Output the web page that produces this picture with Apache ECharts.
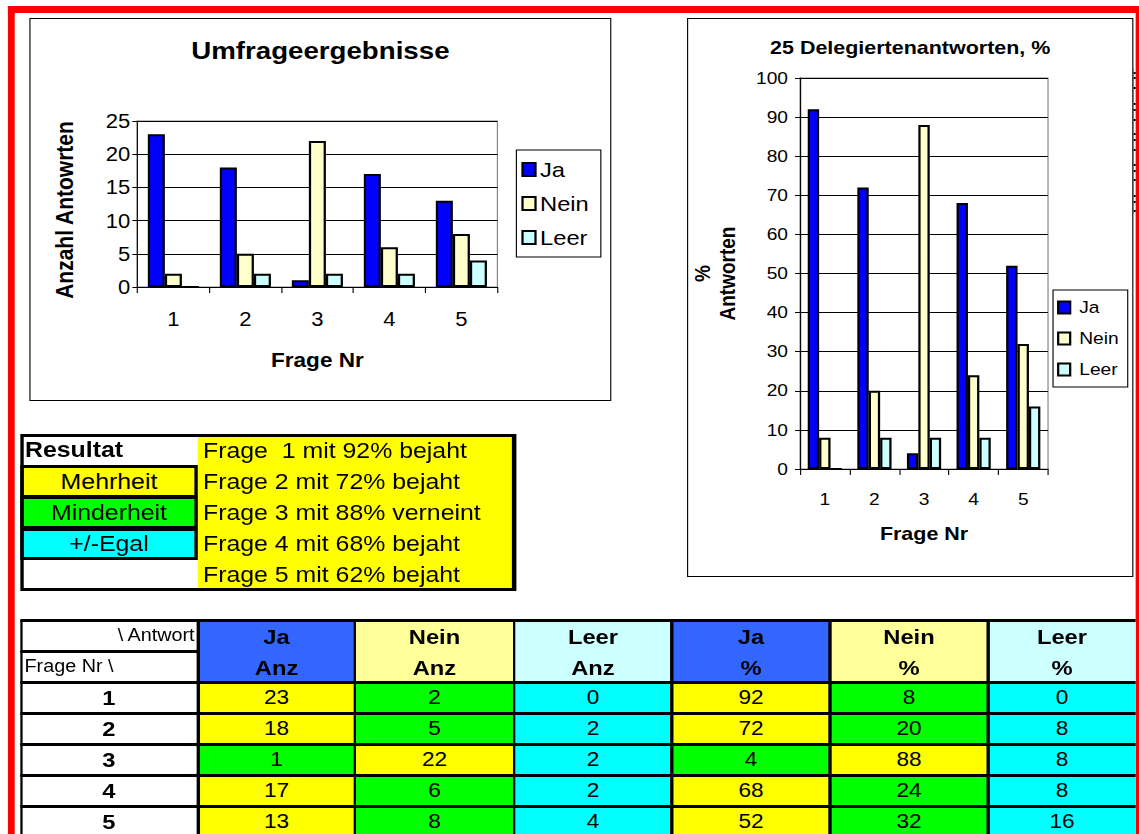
<!DOCTYPE html>
<html>
<head>
<meta charset="utf-8">
<script src="https://cdn.jsdelivr.net/npm/echarts@6/dist/echarts.min.js"></script>
<style>
  html, body { margin:0; padding:0; background:#fff; }
  body { width:1139px; height:834px; overflow:hidden; position:relative; font-family:"Liberation Sans", Arial, sans-serif; color:#000; }
  #stage { position:absolute; left:0; top:0; width:1008px; height:834px; transform:scaleX(1.13); transform-origin:0 0; }
  .t { display:flex; align-items:center; white-space:pre; }
</style>
</head>
<body>
<div id="stage"></div>
<script>
// ---------------- data ----------------
const fragen = ['1', '2', '3', '4', '5'];
const seriesNames = ['Ja', 'Nein', 'Leer'];
const jaAnz = [23, 18, 1, 17, 13];
const neinAnz = [2, 5, 22, 6, 8];
const leerAnz = [0, 2, 2, 2, 4];
const jaPct = [92, 72, 4, 68, 52];
const neinPct = [8, 20, 88, 24, 32];
const leerPct = [0, 8, 8, 8, 16];
const anzTicks = [0, 25, 5];      // min, max, interval
const pctTicks = [0, 100, 10];
const chart1Title = 'Umfrageergebnisse';
const chart1YName = 'Anzahl Antowrten';
const chart2Title = '25 Delegiertenantworten, %';
const chart2YName = '%\nAntworten';
const xName = 'Frage Nr';
const resultHead = 'Resultat';
const resultLabels = ['Mehrheit', 'Minderheit', '+/-Egal'];
const resultLines = ['Frage  1 mit 92% bejaht', 'Frage 2 mit 72% bejaht', 'Frage 3 mit 88% verneint', 'Frage 4 mit 68% bejaht', 'Frage 5 mit 62% bejaht'];
const tableHeadTop = ['Ja', 'Nein', 'Leer', 'Ja', 'Nein', 'Leer'];
const tableHeadBottom = ['Anz', 'Anz', 'Anz', '%', '%', '%'];
const cornerTop = '\\ Antwort';
const cornerBottom = 'Frage Nr \\';

// ---------------- styles ----------------
const S = 1.13;
const C_JA = '#0000FF', C_NEIN = '#FFFFCC', C_LEER = '#CCFFFF';
const HEAD_COL = ['#3366FF', '#FFFF99', '#CCFFFF', '#3366FF', '#FFFF99', '#CCFFFF'];
const YEL = '#FFFF00', GRN = '#00FF00', CYA = '#00FFFF';
const stage = document.getElementById('stage');
function el(x, y, w, h, css, text) {
  const d = document.createElement('div');
  d.style.cssText = `position:absolute;left:${x / S}px;top:${y}px;width:${w / S}px;height:${h}px;box-sizing:border-box;` + (css || '');
  if (text != null) d.textContent = text;
  stage.appendChild(d);
  return d;
}

// ---------------- red frame ----------------
el(8, 6, 1131, 7, 'background:#f00');
el(8, 6, 7, 828, 'background:#f00');
el(1136, 6, 3, 828, 'background:#f00');
// cut-off marks at right edge
[72, 77, 87, 103, 109, 119, 133, 139, 149, 164, 170, 179, 195, 201, 210].forEach(y => el(1133, y, 3, 2, 'background:#000'));
el(1132, 68, 1.5, 146, 'background:#000');

// ---------------- charts ----------------
function barSeries(arrays) {
  const cols = [C_JA, C_NEIN, C_LEER];
  return arrays.map((a, i) => ({
    name: seriesNames[i], type: 'bar', data: a,
    itemStyle: { color: cols[i], borderColor: '#000', borderWidth: 2 },
  }));
}
function makeChart(box, cfg) {
  el(box.x, box.y, box.w, box.h, 'border:1.5px solid #000;background:#fff');
  const d = el(box.x, box.y, box.w, box.h, '');
  const ch = echarts.init(d, null, { renderer: 'svg' });
  const ser = barSeries(cfg.data);
  ser.forEach(s => { s.barGap = '0%'; s.barCategoryGap = cfg.gap; });
  ch.setOption({
    animation: false,
    title: { text: cfg.title, left: 'center', top: cfg.titleTop, padding: 0,
      textStyle: { fontSize: cfg.titleSize, fontWeight: 'bold', color: '#000', fontFamily: 'Liberation Sans' } },
    legend: {
      orient: 'vertical', left: cfg.legLeft / S, top: cfg.legTop, padding: cfg.legPad,
      borderColor: '#000', borderWidth: 1, itemGap: cfg.legGap,
      itemWidth: cfg.icon / S, itemHeight: cfg.icon, icon: 'rect',
      textStyle: { fontSize: cfg.legSize, lineHeight: cfg.legSize, color: '#000', fontFamily: 'Liberation Sans', padding: [0, 0, 0, cfg.legTextPad] },
      data: seriesNames
    },
    grid: { left: cfg.grid[0] / S, top: cfg.grid[1], width: cfg.grid[2] / S, height: cfg.grid[3],
      show: true, borderColor: '#808080', borderWidth: 1, containLabel: false, outerBoundsMode: 'none' },
    xAxis: {
      type: 'category', data: fragen,
      axisLine: { lineStyle: { color: '#000', width: 1 } },
      axisTick: { show: true, length: 6, lineStyle: { color: '#000' } },
      axisLabel: { fontSize: cfg.lblSize, color: '#000', margin: cfg.xMargin, fontFamily: 'Liberation Sans' },
      name: xName, nameLocation: 'middle', nameGap: cfg.xNameGap,
      nameTextStyle: { fontSize: cfg.nameSize, fontWeight: 'bold', color: '#000', fontFamily: 'Liberation Sans' }
    },
    yAxis: {
      type: 'value', min: cfg.ticks[0], max: cfg.ticks[1], interval: cfg.ticks[2],
      axisLine: { show: true, lineStyle: { color: '#000', width: 1 } },
      axisTick: { show: true, length: 5 / S, lineStyle: { color: '#000' } },
      axisLabel: { fontSize: cfg.lblSize, color: '#000', margin: cfg.yMargin / S, fontFamily: 'Liberation Sans' },
      splitLine: { show: true, lineStyle: { color: '#000', width: 1 } },
      name: cfg.yName, nameLocation: 'middle', nameGap: cfg.yNameGap / S,
      nameTextStyle: { fontSize: cfg.yNameSize, fontWeight: 'bold', color: '#000', lineHeight: cfg.nameLH, fontFamily: 'Liberation Sans', padding: cfg.yNamePad }
    },
    series: ser
  });
}

makeChart({ x: 29, y: 18, w: 582, h: 383 }, {
  title: chart1Title, titleTop: 20, titleSize: 24.5,
  legLeft: 487, legTop: 132, legPad: [9, 12 / S, 9, 5 / S], legGap: 13, legSize: 21, icon: 13, legTextPad: -1,
  grid: [108, 103, 360, 166], gap: '29%', ticks: anzTicks,
  lblSize: 19.5, xMargin: 22, yMargin: 7, xNameGap: 63,
  yName: chart1YName, yNameGap: 59, nameSize: 20, yNameSize: 21, nameLH: 24, yNamePad: [0, 12, 0, 0],
  data: [jaAnz, neinAnz, leerAnz]
});
makeChart({ x: 687, y: 18, w: 446, h: 559 }, {
  title: chart2Title, titleTop: 20, titleSize: 19,
  legLeft: 366, legTop: 272, legPad: [9, 9 / S, 9, 4 / S], legGap: 14, legSize: 17, icon: 12, legTextPad: 3,
  grid: [113, 60, 248, 391], gap: '31%', ticks: pctTicks,
  lblSize: 17, xMargin: 22, yMargin: 12, xNameGap: 55,
  yName: chart2YName, yNameGap: 60, nameSize: 19, yNameSize: 19, nameLH: 22, yNamePad: 0,
  data: [jaPct, neinPct, leerPct]
});

// ---------------- result table ----------------
const rTop = 434, rRow = 31.2;
el(198, rTop, 317, 156, 'background:' + YEL);
const rCols = [YEL, GRN, CYA];
resultLabels.forEach((t, i) => {
  el(20, rTop + rRow * (i + 1), 178, rRow + 1.5, `background:${rCols[i]};border:3px solid #000;justify-content:center;font-size:22px`, t).className = 't';
});
el(25, rTop, 170, rRow, 'font-size:22px;font-weight:bold;', resultHead).className = 't';
resultLines.forEach((t, i) => {
  el(203, rTop + rRow * i + 1, 310, rRow, 'font-size:22px;', t).className = 't';
});
el(20, rTop, 496, 157, 'border:3px solid #000;border-right-width:4px;');

// ---------------- bottom table ----------------
const colX = [20, 198, 355, 514, 672, 830, 988, 1136];
const rowY = [620, 682, 713, 744, 775, 806, 837];
const vals = [jaAnz, neinAnz, leerAnz, jaPct, neinPct, leerPct];
function cellColor(c, r) {
  const k = c % 3;
  if (k === 2) return CYA;
  const ja = c < 3 ? jaAnz[r] : jaPct[r];
  const nein = c < 3 ? neinAnz[r] : neinPct[r];
  const mine = k === 0 ? ja : nein, other = k === 0 ? nein : ja;
  return mine >= other ? YEL : GRN;
}
// header
el(colX[0], 620, colX[1] - colX[0], 31, 'justify-content:flex-end;padding-right:3px;font-size:17.5px;', cornerTop).className = 't';
el(colX[0], 651, colX[1] - colX[0], 31, 'justify-content:flex-start;padding-left:4px;font-size:17.5px;', cornerBottom).className = 't';
for (let c = 0; c < 6; c++) {
  const x0 = colX[c + 1], w = colX[c + 2] - x0;
  el(x0, 620, w, 62, 'background:' + HEAD_COL[c]);
  el(x0, 621, w, 31, 'justify-content:center;font-size:21px;font-weight:bold;', tableHeadTop[c]).className = 't';
  el(x0, 652, w, 31, 'justify-content:center;font-size:21px;font-weight:bold;', tableHeadBottom[c]).className = 't';
}
// rows
for (let r = 0; r < fragen.length; r++) {
  const y0 = rowY[r + 1], h = rowY[r + 2] - y0;
  el(colX[0], y0, colX[1] - colX[0], h, 'justify-content:center;font-size:21px;font-weight:bold;', fragen[r]).className = 't';
  for (let c = 0; c < 6; c++) {
    const x0 = colX[c + 1], w = colX[c + 2] - x0;
    el(x0, y0, w, h, `background:${cellColor(c, r)};justify-content:center;font-size:20px;`, String(vals[c][r])).className = 't';
  }
}
// grid lines
rowY.slice(0, 6).forEach(y => el(20, y - 1.5, 1116, 3, 'background:#000'));
el(20, 650, 178, 3, 'background:#000');
colX.slice(0, 7).forEach((x, i) => el(x - (i === 0 ? 0 : 1.5), 620, 3, 214, 'background:#000'));
</script>
</body>
</html>
